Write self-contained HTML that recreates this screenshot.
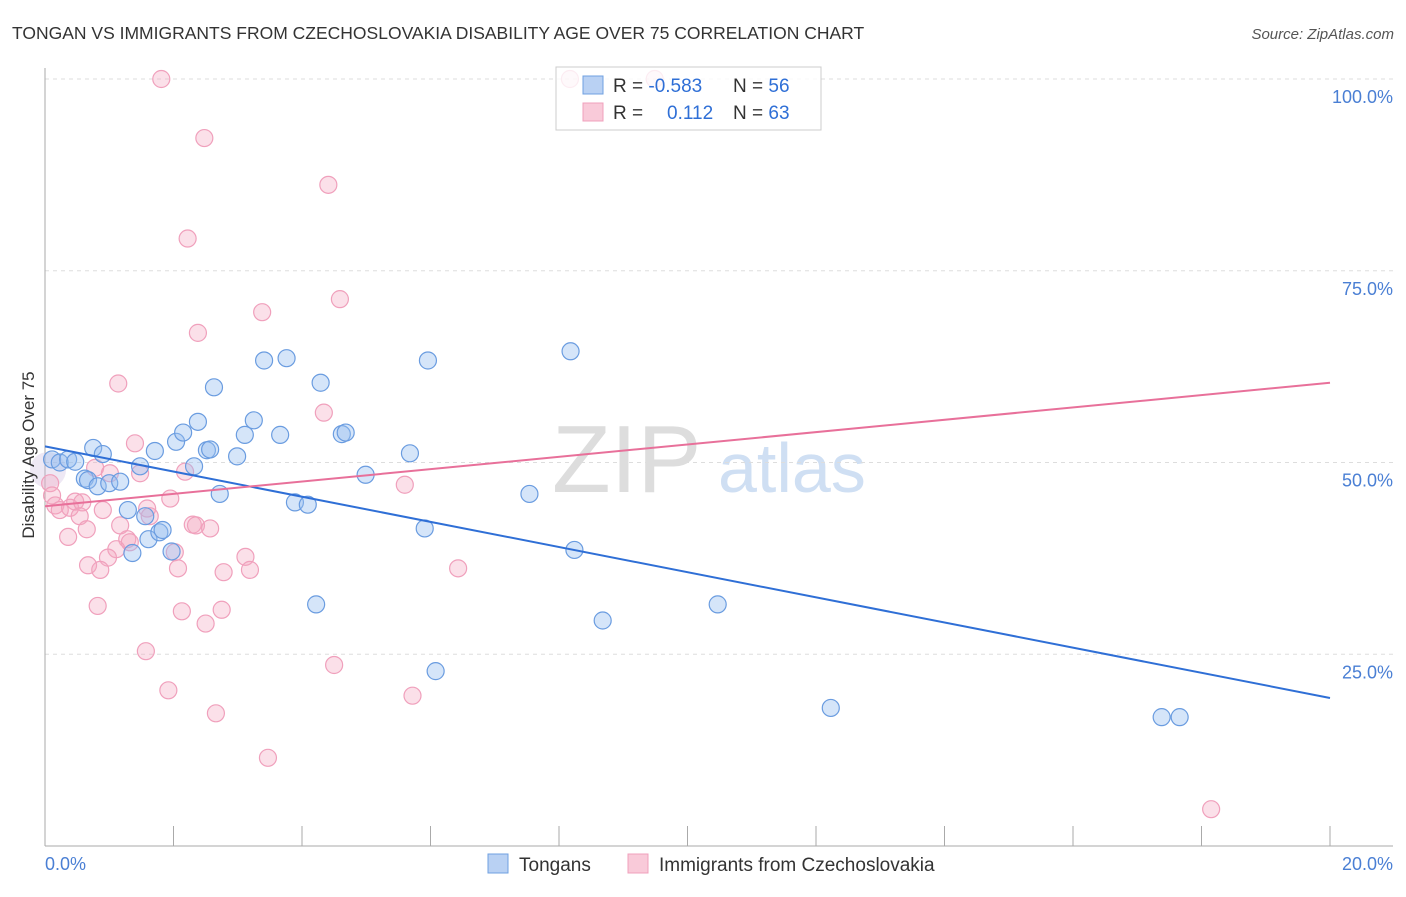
<!DOCTYPE html>
<html><head><meta charset="utf-8"><style>
body{margin:0;background:#fff;font-family:"Liberation Sans",sans-serif}
svg text{font-family:"Liberation Sans",sans-serif}
</style></head><body>
<svg id="c" width="1406" height="892" xmlns="http://www.w3.org/2000/svg">
<text x="12" y="39" font-size="17.5" fill="#333">TONGAN VS IMMIGRANTS FROM CZECHOSLOVAKIA DISABILITY AGE OVER 75 CORRELATION CHART</text>
<text x="1394" y="39" font-size="15" fill="#555" font-style="italic" text-anchor="end">Source: ZipAtlas.com</text>
<text x="552" y="492" font-size="96" fill="#ddd" font-family="Liberation Serif">ZIP</text>
<text x="718" y="492" font-size="70" fill="#cfdff3">atlas</text>
<g id="grid"></g>
<line x1="45" y1="68" x2="45" y2="846" stroke="#aaa"/>
<line x1="45" y1="846" x2="1393" y2="846" stroke="#aaa"/>
<g id="ticks"></g>
<g id="pts"></g>
<g id="lines"></g>
<g>
<rect x="556" y="67" width="265" height="63" fill="#fff" fill-opacity="0.8" stroke="#ccc"/>
<rect x="583" y="76" width="20" height="18" fill="#b9d1f3" stroke="#6fa0e0"/>
<rect x="583" y="103" width="20" height="18" fill="#f9cad9" stroke="#f0a0bc"/>
<text x="613" y="92" font-size="19" fill="#333">R = <tspan fill="#2f6fd6">-0.583</tspan><tspan x="733">N = </tspan><tspan fill="#2f6fd6">56</tspan></text>
<text x="613" y="119" font-size="19" fill="#333">R = <tspan fill="#2f6fd6" x="667">0.112</tspan><tspan x="733">N = </tspan><tspan fill="#2f6fd6">63</tspan></text>
</g>
<text transform="translate(34,455) rotate(-90)" font-size="17" fill="#333" text-anchor="middle">Disability Age Over 75</text>
<text x="45" y="870" font-size="18" fill="#4a7fd4">0.0%</text>
<text x="1393" y="870" font-size="18" fill="#4a7fd4" text-anchor="end">20.0%</text>
<g>
<rect x="488" y="854" width="20" height="19" fill="#b9d1f3" stroke="#6fa0e0"/>
<text x="519" y="871" font-size="19" fill="#333">Tongans</text>
<rect x="628" y="854" width="20" height="19" fill="#f9cad9" stroke="#f0a0bc"/>
<text x="659" y="871" font-size="19" fill="#333">Immigrants from Czechoslovakia</text>
</g>
</svg>
<script>
const yTicks=[25,50,75,100];
const yTickLabels=["25.0%","50.0%","75.0%","100.0%"];
const xTicks=[2,4,6,8,10,12,14,16,18,20];
const blueX=[0.11,0.23,0.36,0.47,0.75,0.9,0.62,0.67,0.82,1.0,1.17,1.48,1.29,1.56,1.61,1.36,1.78,1.83,1.97,1.71,2.04,2.15,2.32,2.38,2.52,2.57,2.63,2.72,2.99,3.11,3.25,3.41,3.66,3.76,3.89,4.09,4.29,4.22,4.62,4.68,4.99,5.68,5.91,5.96,6.08,7.54,8.18,8.24,8.68,10.47,12.23,17.38,17.66];
const blueY=[50.4,50.0,50.4,50.1,51.9,51.1,47.9,47.7,46.9,47.3,47.5,49.5,43.8,43.0,40.0,38.2,40.9,41.2,38.4,51.5,52.7,53.9,49.5,55.3,51.6,51.7,59.8,45.9,50.8,53.6,55.5,63.3,53.6,63.6,44.8,44.5,60.4,31.5,53.7,53.9,48.4,51.2,41.4,63.3,22.8,45.9,64.5,38.6,29.4,31.5,18.0,16.8,16.8];
const pinkX=[1.81,2.48,4.41,2.22,4.59,3.38,2.38,1.14,4.34,1.4,0.78,1.01,1.48,2.18,0.08,0.11,0.16,0.23,0.39,0.47,0.58,0.36,0.54,0.65,0.9,1.17,1.59,1.63,1.95,2.3,2.35,2.57,1.28,1.32,1.11,0.98,0.67,0.86,2.02,2.07,2.78,3.12,3.19,0.82,2.13,2.75,2.5,1.57,1.92,2.66,4.5,3.47,5.72,5.6,6.43,18.15,8.17,9.49];
const pinkY=[100,92.3,86.2,79.2,71.3,69.6,66.9,60.3,56.5,52.5,49.3,48.6,48.6,48.8,47.3,45.7,44.4,43.8,44.1,44.9,44.8,40.3,43.0,41.3,43.8,41.8,44.0,43.0,45.3,41.9,41.8,41.4,40.0,39.6,38.7,37.6,36.6,36.0,38.3,36.2,35.7,37.7,36.0,31.3,30.6,30.8,29.0,25.4,20.3,17.3,23.6,11.5,19.6,47.1,36.2,4.8,100,100];
const blueTrend=[52.1,19.3];
const pinkTrend=[44.3,60.4];
const X=v=>45+v*(1330-45)/20;
const Y=v=>846-v*(846-79)/100;
const NS="http://www.w3.org/2000/svg";
function mk(t,a,p){const e=document.createElementNS(NS,t);for(const k in a)e.setAttribute(k,a[k]);p.appendChild(e);return e;}
const grid=document.getElementById('grid'),ticks=document.getElementById('ticks'),pts=document.getElementById('pts'),lines=document.getElementById('lines');
yTicks.forEach((v,i)=>{
 const l=mk('line',{x1:45,x2:1393,y1:Y(v),y2:Y(v),stroke:'#ddd','stroke-dasharray':'4,4'},grid);
 
 
 const t=mk('text',{x:1393,y:Y(v)+24,'font-size':18,fill:'#4a7fd4','text-anchor':'end'},grid);
 t.textContent=yTickLabels[i];
 
 
});
xTicks.forEach(v=>{
 const l=mk('line',{x1:X(v),x2:X(v),y1:826,y2:846,stroke:'#aaa'},ticks);
 
 
});
const big=mk('circle',{cx:48,cy:470,r:18,fill:'rgba(200,180,220,0.3)'},pts);


pinkX.forEach((x,i)=>{
 const c=mk('circle',{cx:X(x),cy:Y(pinkY[i]),r:8.5,fill:'rgba(244,165,192,0.35)',stroke:'#f0a0bc','stroke-width':1.2},pts);
 
 
});
blueX.forEach((x,i)=>{
 const c=mk('circle',{cx:X(x),cy:Y(blueY[i]),r:8.5,fill:'rgba(150,190,240,0.4)',stroke:'#6a9ce0','stroke-width':1.2},pts);
 
 
});
const bl=mk('line',{x1:X(0),y1:Y(blueTrend[0]),x2:X(20),y2:Y(blueTrend[1]),stroke:'#2f6fd6','stroke-width':2},lines);


const pl=mk('line',{x1:X(0),y1:Y(pinkTrend[0]),x2:X(20),y2:Y(pinkTrend[1]),stroke:'#e8709a','stroke-width':2},lines);


</script>
</body></html>
